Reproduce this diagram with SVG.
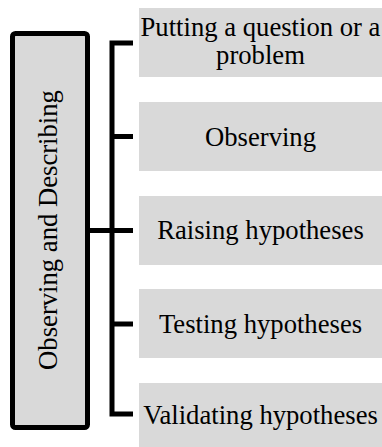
<svg xmlns="http://www.w3.org/2000/svg" width="382" height="447" viewBox="0 0 382 447">
  <style>
    .box { fill: #d9d9d9; }
    .lbl { font-family: "Liberation Serif", "Times New Roman", serif; font-size: 26.67px; fill: #000; text-anchor: middle; }
    .con { fill: none; stroke: #000; stroke-width: 5; stroke-linejoin: miter; stroke-linecap: butt; }
  </style>
  <rect width="382" height="447" fill="#ffffff"/>
  <g id="main">
    <rect x="12.5" y="33.5" width="75" height="394" rx="3" ry="3" fill="#d9d9d9" stroke="#000" stroke-width="5"/>
    <text class="lbl" transform="translate(56.5,230) rotate(-90)" x="0" y="0">Observing and Describing</text>
  </g>
  <g id="connectors">
    <path class="con" d="M133,43 H112 V414 H133"/>
    <path class="con" d="M112,136.5 H133"/>
    <path class="con" d="M90,230.5 H133"/>
    <path class="con" d="M112,324 H133"/>
  </g>
  <g id="n1">
    <rect class="box" x="139" y="8" width="243" height="69"/>
    <text class="lbl" x="260.5" y="36">Putting a question or a</text>
    <text class="lbl" x="260.5" y="64">problem</text>
  </g>
  <g id="n2">
    <rect class="box" x="139" y="102" width="243" height="69"/>
    <text class="lbl" x="260.5" y="146">Observing</text>
  </g>
  <g id="n3">
    <rect class="box" x="139" y="196" width="243" height="69"/>
    <text class="lbl" x="260.5" y="239">Raising hypotheses</text>
  </g>
  <g id="n4">
    <rect class="box" x="139" y="289" width="243" height="69"/>
    <text class="lbl" x="260.5" y="332.5">Testing hypotheses</text>
  </g>
  <g id="n5">
    <rect class="box" x="139" y="383" width="243" height="69"/>
    <text class="lbl" x="260.5" y="424">Validating hypotheses</text>
  </g>
</svg>
